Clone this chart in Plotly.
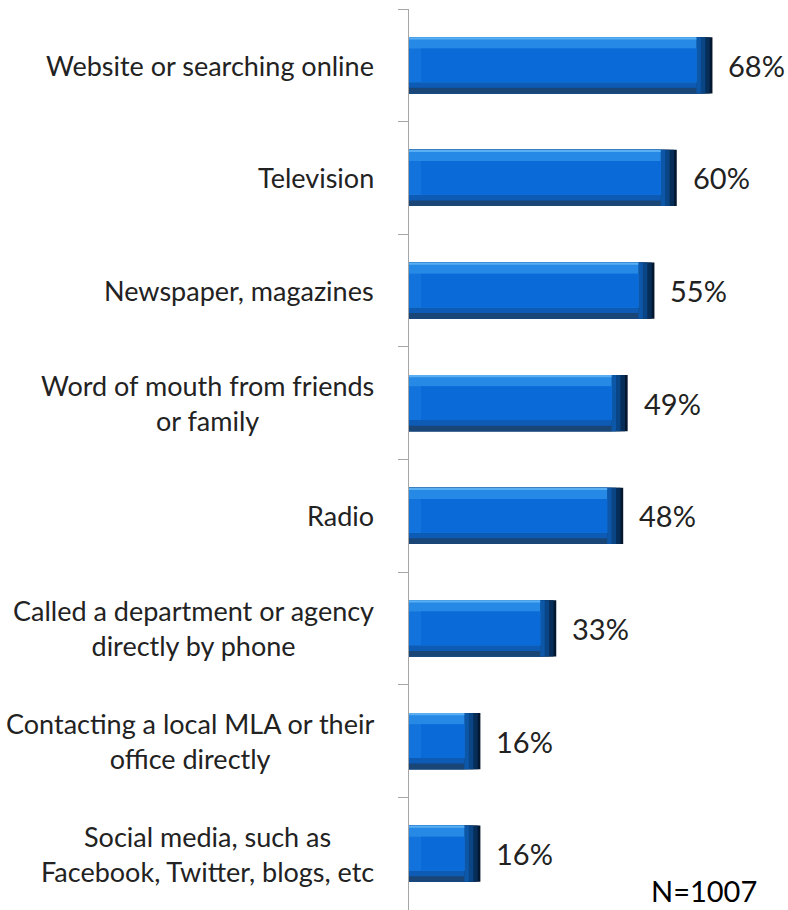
import plotly.graph_objects as go

# Survey: sources used to find information (N=1007)
categories = [
    "Website or searching online",
    "Television",
    "Newspaper, magazines",
    "Word of mouth from friends<br>or family",
    "Radio",
    "Called a department or agency<br>directly by phone",
    "Contacting a local MLA or their<br>office directly",
    "Social media, such as<br>Facebook, Twitter, blogs, etc",
]
values = [68, 60, 55, 49, 48, 33, 16, 16]
sample_note = "N=1007"

FONT = "Lato"
TEXT_COLOR = "#222222"
AXIS_COLOR = "#a6a6a6"

# bevel geometry: bar thickness in category units, end bevels in % of the x scale
BAR_W = 0.5
TOP_BAND = 0.10
BOTTOM_BAND = 0.10
RIGHT_BEVEL = 3.6
LEFT_BEVEL = 2.7

half = BAR_W / 2
inner = [v - RIGHT_BEVEL for v in values]
face = [v - RIGHT_BEVEL - LEFT_BEVEL for v in values]


def shrink(d):
    return [v - d for v in values]


fig = go.Figure()

layers = [
    # (x values, base, offset, width, colour)
    # right-hand bevel, darkening towards the end of the bar
    (values, 0, -half, BAR_W, "#03172e"),
    (shrink(0.6), 0, -half, BAR_W, "#072d59"),
    (shrink(1.6), 0, -half, BAR_W, "#0a4585"),
    (shrink(2.6), 0, -half, BAR_W, "#0c57a8"),
    # bottom bevel
    (inner, 0, -half, BAR_W, "#1a4577"),
    (inner, 0, -half, BAR_W - BOTTOM_BAND / 2, "#0d5bb5"),
    # top bevel with a thin highlight
    (inner, 0, -half, BAR_W - BOTTOM_BAND, "#2689e6"),
    (inner, 0, -half, 0.02, "#5aaef2"),
    # left bevel and the flat face
    (inner, 0, -half + TOP_BAND, BAR_W - TOP_BAND - BOTTOM_BAND, "#1273dc"),
    (face, LEFT_BEVEL, -half + TOP_BAND, BAR_W - TOP_BAND - BOTTOM_BAND, "#0a6bd8"),
]
for xs, base, off, w, col in layers:
    fig.add_trace(go.Bar(
        y=categories, x=xs, base=base, orientation="h",
        offset=off, width=w,
        marker=dict(color=col, line=dict(width=0)),
        hoverinfo="skip", showlegend=False,
    ))

annotations = []
for cat, v in zip(categories, values):
    # category label, lines centred, right edge left of the axis
    annotations.append(dict(
        x=0, xref="paper", y=cat, yref="y", text=cat,
        xanchor="right", yanchor="middle", align="center", xshift=-33,
        showarrow=False, font=dict(family=FONT, size=27, color=TEXT_COLOR),
    ))
    # value label just past the end of the bar
    annotations.append(dict(
        x=v, xref="x", y=cat, yref="y", text=f"{v}%",
        xanchor="left", yanchor="middle", xshift=14,
        showarrow=False, font=dict(family=FONT, size=29, color=TEXT_COLOR),
    ))
annotations.append(dict(
    x=0.969, xref="paper", y=20 / 901, yref="paper", xshift=4,
    text=sample_note, xanchor="right", yanchor="middle", showarrow=False,
    font=dict(family=FONT, size=29, color="#000000"),
))

fig.update_layout(
    width=788, height=910,
    margin=dict(l=409, r=22, t=9, b=0),
    paper_bgcolor="white", plot_bgcolor="white",
    barmode="overlay",
    annotations=annotations,
    xaxis=dict(range=[0, 80], showgrid=False, zeroline=False,
               showticklabels=False, ticks="", showline=False),
    yaxis=dict(autorange="reversed", showgrid=False, zeroline=False,
               showline=True, linecolor=AXIS_COLOR, linewidth=1,
               ticks="outside", tickson="boundaries", ticklen=10,
               tickcolor=AXIS_COLOR, tickwidth=1, showticklabels=False),
)

fig.write_html("out.html")
